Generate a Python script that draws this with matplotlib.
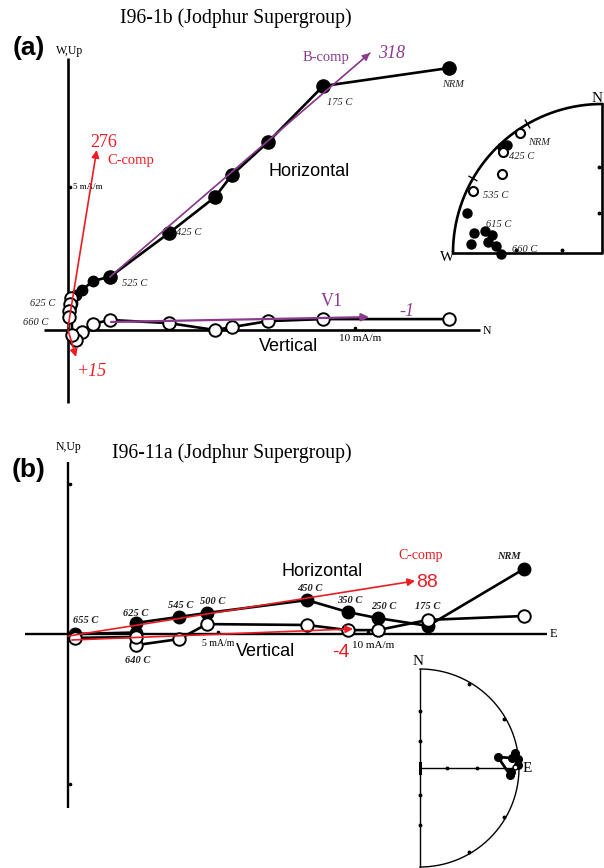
import numpy as np
import matplotlib
matplotlib.use("Agg")
import matplotlib.pyplot as plt

FIG_W, FIG_H = 604, 868
SERIF = ["Liberation Serif", "DejaVu Serif"]
SANS = ["Liberation Sans", "DejaVu Sans"]
RED = "#ec1c24"
PURPLE = "#8b3a8e"

# ---------------- Sample I96-1b (mA/m) ----------------
a_steps = ["NRM", "175 C", "", "", "", "425 C", "525 C", "", "", "", "", "625 C", "", "", "660 C"]
a_north = [13.28, 8.89, 6.97, 5.71, 5.12, 3.52, 1.46, 0.86, 0.50, 0.28, 0.15, 0.10, 0.07, 0.04, 0.02]
a_west = [9.13, 8.50, 6.55, 5.40, 4.63, 3.38, 1.85, 1.71, 1.39, 1.22, 0.94, 0.84, 0.70, 0.55, 0.45]
a_up = [0.38, 0.38, 0.31, 0.10, 0.00, 0.24, 0.35, 0.21, -0.07, -0.35, -0.17, 1.10, 0.90, 0.65, 0.45]

# fitted components (start and tip, mA/m)
a_bcomp = [(1.46, 1.85), (10.52, 9.65)]
a_v1 = [(1.50, 0.28), (10.49, 0.45)]
a_ccomp_h = [(0.0, 0.10), (1.00, 6.27)]
a_ccomp_v = [(0.0, 0.0), (0.28, -0.94)]

# equal-angle net directions for I96-1b
a_net_labels = ["NRM", "425 C", "", "", "", "535 C", "", "", "", "615 C", "", "", "", "660 C"]
a_dec = [325.7, 316.7, 318.5, 315.6, 308.3, 295.7, 286.5, 278.9, 274.0, 280.6, 279.3, 275.5, 273.8, 269.4]
a_inc = [-1.4, 1.3, 2.0, -3.0, -9.0, -2.4, 3.2, 8.0, 7.2, 12.8, 16.4, 15.0, 19.0, 21.8]

# ---------------- Sample I96-11a (mA/m) ----------------
b_steps = ["NRM", "175 C", "250 C", "350 C", "450 C", "500 C", "545 C", "625 C", "640 C", "655 C"]
b_east = [15.20, 12.00, 10.33, 9.33, 7.97, 4.63, 3.70, 2.27, 2.27, 0.23]
b_north = [2.17, 0.27, 0.53, 0.73, 1.13, 0.70, 0.57, 0.37, 0.05, 0.00]
b_up = [0.60, 0.47, 0.13, 0.13, 0.30, 0.33, -0.17, -0.37, -0.10, -0.13]

b_ccomp_h = [(0.0, -0.07), (11.57, 1.77)]
b_ccomp_v = [(0.13, -0.20), (9.50, 0.17)]

b_dec = [94.4, 82.0, 83.8, 81.0, 84.8, 88.2, 89.4, 92.5]
b_inc = [5.3, 13.0, 3.9, 1.7, 0.3, 0.5, -2.4, 4.8]

fig = plt.figure(figsize=(FIG_W / 100, FIG_H / 100), dpi=100)


def panel_axes(top_px, bottom_px, origin_px, px_per_unit):
    ax = fig.add_axes([0, 1 - bottom_px / FIG_H, 1, (bottom_px - top_px) / FIG_H])
    ox, oy = origin_px
    ax.set_xlim(-ox / px_per_unit, (FIG_W - ox) / px_per_unit)
    ax.set_ylim((oy - bottom_px) / px_per_unit, (oy - top_px) / px_per_unit)
    ax.axis("off")
    return ax


def net_axes(center_px, radius_px, xlim, ylim):
    cx, cy = center_px
    left = cx + xlim[0] * radius_px
    right = cx + xlim[1] * radius_px
    top = cy - ylim[1] * radius_px
    bottom = cy - ylim[0] * radius_px
    ax = fig.add_axes([left / FIG_W, 1 - bottom / FIG_H,
                       (right - left) / FIG_W, (bottom - top) / FIG_H])
    ax.set_xlim(*xlim)
    ax.set_ylim(*ylim)
    ax.axis("off")
    return ax


def wulff(dec, inc):
    dec = np.radians(np.asarray(dec, float))
    r = np.tan(np.radians(90 - np.abs(np.asarray(inc, float))) / 2)
    return r * np.sin(dec), r * np.cos(dec)


def arrow(ax, seg, color, lw=1.2):
    ax.annotate("", xy=seg[1], xytext=seg[0],
                arrowprops=dict(arrowstyle="-|>", color=color, lw=lw,
                                mutation_scale=11, shrinkA=0, shrinkB=0),
                zorder=6)


def net_ticks(ax, azimuths, axis_pts, inner=0.97, outer=1.03, as_dots=False):
    for az in azimuths:
        s, c = np.sin(np.radians(az)), np.cos(np.radians(az))
        if as_dots:
            ax.plot(s * inner, c * inner, "o", color="black", ms=1.8)
        else:
            ax.plot([s * inner, s * outer], [c * inner, c * outer], color="black", lw=1.0)
    xs, ys = zip(*axis_pts)
    ax.plot(xs, ys, "o", color="black", ms=1.8, zorder=3)


lab_kw = dict(fontsize=7.5, family=SERIF, style="italic", color="#222222")

# ======================= panel (a) =======================
ax = panel_axes(0, 434, (68, 330), 28.7)
ax.plot([-0.84, 14.36], [0, 0], color="black", lw=1.9, solid_capstyle="butt")
ax.plot([0, 0], [-2.54, 9.48], color="black", lw=1.9, solid_capstyle="butt")
ax.plot([0.07], [5.0], "o", color="black", ms=1.6)
ax.plot([10.0], [0.07], "o", color="black", ms=1.6)

ax.plot(a_north, a_west, color="black", lw=1.9, zorder=3)
sizes = [9.5] * 7 + [7.5] * 8
for x, y, s in zip(a_north, a_west, sizes):
    ax.plot(x, y, "o", color="black", ms=s, zorder=4)
ax.plot(a_north, a_up, color="black", lw=1.9, zorder=3)
ax.plot(a_north, a_up, "o", mfc="white", mec="black", mew=1.4, ms=9, zorder=5)

ax.plot(*zip(*a_bcomp), color=PURPLE, lw=1.0, zorder=6)
arrow(ax, a_bcomp, PURPLE, lw=1.0)
arrow(ax, a_v1, PURPLE, lw=1.6)
arrow(ax, a_ccomp_h, RED)
arrow(ax, a_ccomp_v, RED)

offs = {"NRM": (3, -12), "175 C": (12, -12), "425 C": (14, 0), "525 C": (18, -5),
        "625 C": (-20, 2), "660 C": (-24, -4)}
for x, y, s in zip(a_north, a_west, a_steps):
    if s:
        ax.annotate(s, (x, y), xytext=offs[s], textcoords="offset points",
                    ha="center", va="center", **lab_kw)

ax.text(-1.36, 9.83, "(a)", fontsize=19, fontweight="bold", family=SANS, ha="center", va="center")
ax.text(0.07, 9.72, "W,Up", fontsize=8.5, family=SERIF, ha="center", va="center")
ax.text(5.85, 10.87, "I96-1b (Jodphur Supergroup)", fontsize=14.2, family=SERIF, ha="center", va="center")
ax.text(8.40, 5.51, "Horizontal", fontsize=13, family=SANS, ha="center", va="center")
ax.text(7.67, -0.56, "Vertical", fontsize=13, family=SANS, ha="center", va="center")
ax.text(10.17, -0.31, "10 mA/m", fontsize=8, family=SERIF, ha="center", va="center")
ax.text(0.17, 4.98, "5 mA/m", fontsize=6.5, family=SERIF, ha="left", va="center")
ax.text(14.43, -0.03, "N", fontsize=8.5, family=SERIF, ha="left", va="center")
ax.text(1.25, 6.55, "276", fontsize=13, family=SERIF, color=RED, ha="center", va="center")
ax.text(2.20, 5.92, "C-comp", fontsize=10.5, family=SERIF, color=RED, ha="center", va="center")
ax.text(0.84, -1.43, "+15", fontsize=13, family=SERIF, style="italic", color=RED, ha="center", va="center")
ax.text(8.99, 9.51, "B-comp", fontsize=10.5, family=SERIF, color=PURPLE, ha="center", va="center")
ax.text(11.29, 9.65, "318", fontsize=13, family=SERIF, style="italic", color=PURPLE, ha="center", va="center")
ax.text(9.20, 0.98, "V1", fontsize=13, family=SERIF, color=PURPLE, ha="center", va="center")
ax.text(11.81, 0.63, "-1", fontsize=13, family=SERIF, style="italic", color=PURPLE, ha="center", va="center")

# equal-angle net, NW quadrant
nax = net_axes((602, 253), 149, (-1.15, 0.05), (-0.1, 1.1))
t = np.radians(np.linspace(270, 360, 200))
nax.plot(np.sin(t), np.cos(t), color="black", lw=1.9)
nax.plot([-1, 0, 0], [0, 0, 1], color="black", lw=1.9)
net_ticks(nax, [300, 330], [(-0.268, 0.02), (-0.577, 0.02), (-0.02, 0.268), (-0.02, 0.577)])
ax_x, ax_y = wulff(a_dec, a_inc)
for x, y, inc in zip(ax_x, ax_y, a_inc):
    if inc >= 0:
        nax.plot(x, y, "o", color="black", ms=6.5, zorder=4)
    else:
        nax.plot(x, y, "o", mfc="white", mec="black", mew=1.5, ms=6.5, zorder=5)
noffs = {"NRM": (14, -7), "425 C": (14, -7), "535 C": (16, -3), "615 C": (10, 5), "660 C": (17, 3)}
for x, y, s in zip(ax_x, ax_y, a_net_labels):
    if s:
        nax.annotate(s, (x, y), xytext=noffs[s], textcoords="offset points",
                     ha="center", va="center", **lab_kw)
nax.text(-1.04, -0.03, "W", fontsize=11, family=SERIF, ha="center", va="center")
nax.text(-0.03, 1.04, "N", fontsize=11, family=SERIF, ha="center", va="center")

# ======================= panel (b) =======================
bx = panel_axes(434, 868, (68, 634), 30.0)
bx.plot([-1.43, 15.97], [0, 0], color="black", lw=1.7, solid_capstyle="butt")
bx.plot([0, 0], [-5.8, 5.73], color="black", lw=1.7, solid_capstyle="butt")
bx.plot([0.07, 0.07], [5.0, -5.0], "o", color="black", ms=1.6, ls="none")
bx.plot([5.0, 10.0], [0.07, 0.07], "o", color="black", ms=1.6, ls="none")

bx.plot(b_east, b_north, color="black", lw=1.9, zorder=3)
bx.plot(b_east, b_north, "o", color="black", ms=9, zorder=4)
bx.plot(b_east, b_up, color="black", lw=1.9, zorder=3)
bx.plot(b_east, b_up, "o", mfc="white", mec="black", mew=1.4, ms=9, zorder=5)
arrow(bx, b_ccomp_h, RED)
arrow(bx, b_ccomp_v, RED)

blab = dict(fontsize=7.5, family=SERIF, style="italic", fontweight="bold", color="#222222")
boffs = {"NRM": (-11, 9), "175 C": (0, 14), "250 C": (4, 8), "350 C": (1, 8), "450 C": (2, 8),
         "500 C": (4, 8), "545 C": (1, 8), "625 C": (0, 7), "655 C": (8, 10)}
for x, y, s in zip(b_east, b_north, b_steps):
    if s in boffs:
        bx.annotate(s, (x, y), xytext=boffs[s], textcoords="offset points",
                    ha="center", va="center", **blab)
i640 = b_steps.index("640 C")
bx.annotate("640 C", (b_east[i640], b_up[i640]), xytext=(1, -17), textcoords="offset points",
            ha="center", va="center", **blab)

bx.text(-1.33, 5.47, "(b)", fontsize=19, fontweight="bold", family=SANS, ha="center", va="center")
bx.text(0.03, 6.23, "N,Up", fontsize=8.5, family=SERIF, ha="center", va="center")
bx.text(1.47, 6.03, "I96-11a (Jodphur Supergroup)", fontsize=14.2, family=SERIF, ha="left", va="center")
bx.text(8.47, 2.07, "Horizontal", fontsize=13, family=SANS, ha="center", va="center")
bx.text(6.60, -0.60, "Vertical", fontsize=13, family=SANS, ha="center", va="center")
bx.text(5.0, -0.33, "5 mA/m", fontsize=7, family=SERIF, ha="center", va="center")
bx.text(10.17, -0.40, "10 mA/m", fontsize=8, family=SERIF, ha="center", va="center")
bx.text(16.17, 0.0, "E", fontsize=9, family=SERIF, ha="center", va="center")
bx.text(11.77, 2.60, "C-comp", fontsize=10, family=SERIF, color=RED, ha="center", va="center")
bx.text(11.97, 1.73, "88", fontsize=14, family=SANS, color=RED, ha="center", va="center")
bx.text(9.10, -0.63, "-4", fontsize=14, family=SANS, color=RED, ha="center", va="center")

# equal-angle net, eastern half
mx = net_axes((420, 768), 99, (-0.1, 1.2), (-1.02, 1.15))
t = np.radians(np.linspace(0, 180, 300))
mx.plot(np.sin(t), np.cos(t), color="black", lw=1.0)
mx.plot([0, 0], [-1, 1], color="black", lw=1.0)
mx.plot([0, 1], [0, 0], color="black", lw=1.0)
mx.plot([0, 0], [-0.05, 0.05], color="black", lw=2.2)
net_ticks(mx, [30, 60, 120, 150], [(0.268, 0), (0.577, 0), (0, 0.268), (0, 0.577),
                                   (0, -0.268), (0, -0.577)], inner=0.98, as_dots=True)
bxs, bys = wulff(b_dec, b_inc)
mx.plot(np.append(bxs, bxs[0]), np.append(bys, bys[0]), color="black", lw=2.0, zorder=3)
for x, y, inc in zip(bxs, bys, b_inc):
    if inc >= 0:
        mx.plot(x, y, "o", color="black", ms=5.5, zorder=4)
    else:
        mx.plot(x, y, "o", mfc="white", mec="black", mew=1.0, ms=3.5, zorder=5)
mx.text(-0.02, 1.08, "N", fontsize=11, family=SERIF, ha="center", va="center")
mx.text(1.08, -0.01, "E", fontsize=11, family=SERIF, ha="center", va="center")

fig.savefig("out.png", dpi=100)
